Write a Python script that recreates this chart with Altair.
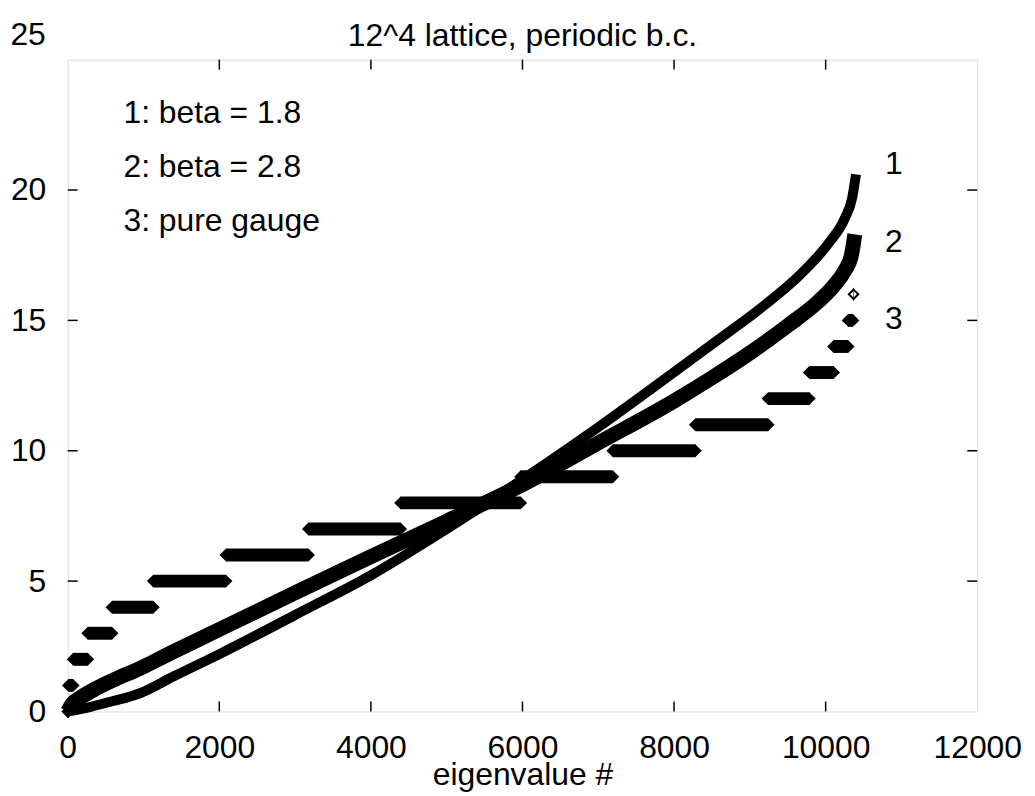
import altair as alt
import pandas as pd

# ---- data ----
# series 1: beta = 1.8
s1_x = [0, 150, 330, 600, 945, 1400, 1995, 3000, 4004, 5000, 6000, 7000, 7995, 8650, 9200, 9680, 10050, 10250, 10350, 10400]
s1_y = [0, 0.08, 0.2, 0.4, 0.69, 1.35, 2.19, 3.7, 5.23, 7.0, 8.9, 10.9, 13.0, 14.4, 15.6, 16.8, 18.0, 18.9, 19.7, 20.6]
# series 2: beta = 2.8
s2_x = [0, 60, 150, 330, 600, 945, 1400, 1995, 3000, 4004, 5000, 6000, 7000, 7995, 8500, 9000, 9500, 9895, 10100, 10250, 10340, 10385]
s2_y = [0, 0.3, 0.5, 0.81, 1.2, 1.64, 2.3, 3.14, 4.55, 5.94, 7.3, 8.7, 10.3, 11.9, 12.8, 13.75, 14.8, 15.7, 16.3, 16.9, 17.5, 18.3]
# series 3: pure gauge, integer eigenvalue levels and the index range of each level
levels = list(range(17))
first = [1, 9, 73, 265, 585, 1129, 2089, 3177, 4393, 5977, 7193, 8281, 9241, 9785, 10105, 10297, 10361]
last = [8, 72, 264, 584, 1128, 2088, 3176, 4392, 5976, 7192, 8280, 9240, 9784, 10104, 10296, 10360, 10368]

x_ticks = [0, 2000, 4000, 6000, 8000, 10000, 12000]
y_ticks = [0, 5, 10, 15, 20]
top_y_tick = [25]
inner_x_ticks = [2000, 4000, 6000, 8000, 10000]
inner_y_ticks = [5, 10, 15, 20]

curve_labels = ["1", "2", "3"]
curve_label_x = [10900, 10900, 10900]
curve_label_y = [21.0, 18.0, 15.05]

legend_lines = ["1: beta = 1.8", "2: beta = 2.8", "3: pure gauge"]
title_text = "12^4 lattice, periodic b.c."

W, H = 914, 655
FONT = "Liberation Sans"
FS = 32

xs = alt.Scale(domain=[0, 12000], nice=False, zero=False)
ys = alt.Scale(domain=[0, 25], nice=False, zero=False)

XAX = alt.Axis(values=x_ticks, format="d", title="eigenvalue #", labelFontSize=FS,
               titleFontSize=FS, labelFont=FONT, titleFont=FONT,
               labelColor="black", titleColor="black", titleFontWeight="normal",
               ticks=False, domain=False, grid=False, labelPadding=21,
               titlePadding=-4, labelFlush=False, labelOverlap=False)
YAX = alt.Axis(values=y_ticks, format="d", title=None, labelFontSize=FS, labelFont=FONT,
               labelColor="black", ticks=False, domain=False, grid=False,
               labelPadding=22, labelFlush=False, labelOverlap=False)


def X(f="x"):
    return alt.X(f + ":Q", scale=xs, axis=XAX, title="eigenvalue #")


def Y(f="y"):
    return alt.Y(f + ":Q", scale=ys, axis=YAX, title=None)


df1 = pd.DataFrame({"x": s1_x, "y": s1_y})
df2 = pd.DataFrame({"x": s2_x, "y": s2_y})
df3 = pd.DataFrame({"y": levels, "x": first, "x2": last})

line1 = alt.Chart(df1).mark_line(color="black", strokeWidth=10, interpolate="monotone",
                                 strokeCap="butt", clip=False).encode(x=X(), y=Y())
line2 = alt.Chart(df2).mark_line(color="black", strokeWidth=15, interpolate="monotone",
                                 strokeCap="butt", clip=False).encode(x=X(), y=Y())

bars = alt.Chart(df3).mark_rule(color="black", strokeWidth=13, strokeCap="butt").encode(
    x=X(), x2="x2:Q", y=Y())
ends_a = alt.Chart(df3).transform_filter("datum.y < 16").mark_point(
    shape="diamond", size=169, filled=True, color="black", opacity=1).encode(x=X(), y=Y())
ends_b = alt.Chart(df3).transform_filter("datum.y < 16").mark_point(
    shape="diamond", size=169, filled=True, color="black", opacity=1).encode(x=X("x2"), y=Y())
single = alt.Chart(df3).transform_filter("datum.y == 16").mark_point(
    shape="diamond", size=90, filled=False, color="black", strokeWidth=2, opacity=1).encode(
    x=X("x2"), y=Y())

# inward ticks on all four sides
dxt = pd.DataFrame({"x": inner_x_ticks})
dyt = pd.DataFrame({"y": inner_y_ticks})
tick_b = alt.Chart(dxt).mark_rule(color="black", strokeWidth=1.5).encode(
    x=X(), y=alt.value(H), y2=alt.value(H - 10))
tick_t = alt.Chart(dxt).mark_rule(color="black", strokeWidth=1.5).encode(
    x=X(), y=alt.value(0), y2=alt.value(10))
tick_l = alt.Chart(dyt).mark_rule(color="black", strokeWidth=1.5).encode(
    y=Y(), x=alt.value(0), x2=alt.value(10))
tick_r = alt.Chart(dyt).mark_rule(color="black", strokeWidth=1.5).encode(
    y=Y(), x=alt.value(W), x2=alt.value(W - 10))

# the top y label sits above the frame in the reference
top_lab = alt.Chart(pd.DataFrame({"y": top_y_tick})).mark_text(
    font=FONT, fontSize=FS, color="black", align="right", baseline="middle", dy=-25).encode(
    x=alt.value(-22), y=Y(), text=alt.Text("y:Q", format="d"))

# chart title as a text mark (so it is not pushed by the raised "25" label)
ttl = alt.Chart(pd.DataFrame({"t": [title_text]})).mark_text(
    font=FONT, fontSize=FS, color="black", align="center", baseline="middle").encode(
    x=alt.value(W / 2), y=alt.value(-24), text="t:N")

dlab = pd.DataFrame({"t": curve_labels, "x": curve_label_x, "y": curve_label_y})
labs = alt.Chart(dlab).mark_text(font=FONT, fontSize=FS, color="black", align="center",
                                 baseline="middle").encode(x=X(), y=Y(), text="t:N")

legs = []
for i, t in enumerate(legend_lines):
    legs.append(alt.Chart(pd.DataFrame({"t": [t]})).mark_text(
        font=FONT, fontSize=FS, color="black", align="left", baseline="middle").encode(
        x=alt.value(56), y=alt.value(54 + 54 * i), text="t:N"))

chart = alt.layer(line1, line2, bars, ends_a, ends_b, single, tick_b, tick_t, tick_l, tick_r,
                  top_lab, ttl, labs, *legs).properties(
    width=W, height=H,
    padding={"left": 60, "top": 50, "right": 50, "bottom": 80},
    autosize=alt.AutoSizeParams(type="none"),
).configure_view(stroke="black", strokeWidth=1.5).configure(background="white")

chart.save("out.html", embed_options={"renderer": "svg", "actions": False})
